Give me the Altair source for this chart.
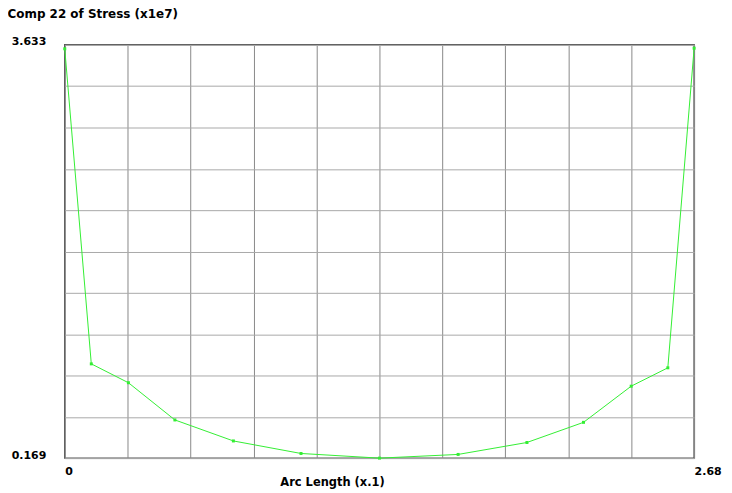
import altair as alt
import pandas as pd

arc_length = [0.0, 0.113, 0.271, 0.469, 0.718, 1.006, 1.340, 1.675, 1.968, 2.209, 2.412, 2.568, 2.680]
stress = [3.600, 0.959, 0.801, 0.489, 0.313, 0.208, 0.169, 0.200, 0.300, 0.469, 0.772, 0.926, 3.605]

x_ticks = [0.0, 0.268, 0.536, 0.804, 1.072, 1.34, 1.608, 1.876, 2.144, 2.412, 2.68]
y_ticks = [0.169, 0.5154, 0.8618, 1.2082, 1.5546, 1.901, 2.2474, 2.5938, 2.9402, 3.2866, 3.633]

df = pd.DataFrame({"x": arc_length, "y": stress})

FONT = "DejaVu Sans"
GREEN = "#33ee33"

x_enc = alt.X(
    "x:Q",
    scale=alt.Scale(domain=[0, 2.68], nice=False, zero=False),
    axis=alt.Axis(
        values=x_ticks,
        labelExpr="datum.value < 0.01 ? '0' : (datum.value > 2.67 ? '2.68' : '')",
        labelAlign="left",
        labelBaseline="top",
        labelPadding=7,
        labelFont=FONT,
        labelFontSize=11,
        labelFontWeight="bold",
        labelColor="#000",
        ticks=False,
        domain=False,
        grid=True,
        gridColor="#888888",
        gridWidth=1,
        gridOpacity=1,
        title="Arc Length (x.1)",
        titleFont=FONT,
        titleFontSize=11.5,
        titleFontWeight="bold",
        titleColor="#000",
        titleX=216,
        titleY=27,
        titleAlign="left",
        titleBaseline="alphabetic",
        labelFlush=False,
        labelOverlap=False,
    ),
)

y_enc = alt.Y(
    "y:Q",
    scale=alt.Scale(domain=[0.169, 3.633], nice=False, zero=False),
    axis=alt.Axis(
        values=y_ticks,
        labelExpr="datum.value < 0.2 ? '0.169' : (datum.value > 3.6 ? '3.633' : '')",
        labelAlign="right",
        labelPadding=19,
        labelOffset=-3,
        labelFont=FONT,
        labelFontSize=11,
        labelFontWeight="bold",
        labelColor="#000",
        ticks=False,
        domain=False,
        grid=True,
        gridColor="#a8a8a8",
        gridWidth=1,
        gridOpacity=1,
        title="Comp 22 of Stress (x1e7)",
        titleFont=FONT,
        titleFontSize=12,
        titleFontWeight="bold",
        titleColor="#000",
        titleAngle=0,
        titleX=-58,
        titleY=-27,
        titleAlign="left",
        titleBaseline="alphabetic",
        labelFlush=False,
        labelOverlap=False,
    ),
)

line = alt.Chart(df).mark_line(color=GREEN, strokeWidth=1).encode(x=x_enc, y=y_enc)
pts = alt.Chart(df).mark_square(color=GREEN, size=9, opacity=1).encode(x="x:Q", y="y:Q")

chart = (
    alt.layer(line, pts)
    .properties(
        width=632,
        height=415,
        autosize=alt.AutoSizeParams(type="none"),
        padding={"left": 57, "top": 36, "right": 30, "bottom": 33},
        background="white",
    )
    .configure_view(stroke="#555555", strokeWidth=1.5)
)

chart.save("out.html", embed_options={"renderer": "svg", "actions": False})
